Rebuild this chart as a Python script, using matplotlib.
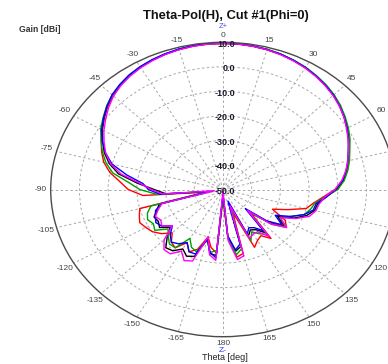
import numpy as np
import matplotlib
matplotlib.use("Agg")
import matplotlib.pyplot as plt

plt.rcParams['font.family'] = ['Liberation Sans', 'DejaVu Sans']

# Theta cut, Phi = 0, gain in dBi every 5 degrees from -180 to 180
theta_deg = np.arange(-180, 185, 5)

gain_black = [
    -48, -23, -23.5, -29, -21, -20, -22, -19.5, -19, -22.5,
    -26, -23, -24, -23.5, -25.5, -27, -45, -30, -26, -20,
    -13, -9, -6, -3.8, -1.5, 0.5, 2.5, 4.3, 5.6, 6.7,
    7.5, 8.2, 8.7, 9.1, 9.4, 9.6, 9.6, 9.6, 9.4, 9.1,
    8.7, 8.1, 7.4, 6.5, 5.5, 4.4, 3.1, 1.6, 0.0, -1.6,
    -3.4, -4.8, -6.3, -8.0, -10.5, -14, -16.5, -17, -19, -22.5,
    -28, -24, -29, -38, -27, -30, -31, -29, -44, -26,
    -24.5, -30, -48]

gain_red = [
    -46, -24, -26, -30, -24, -22, -25, -21, -22, -25,
    -22, -20, -19, -18, -19, -20, -44, -22, -17, -14,
    -10, -7, -5, -3.2, -1.2, 0.7, 2.6, 4.4, 5.7, 6.8,
    7.6, 8.2, 8.7, 9.1, 9.4, 9.5, 9.5, 9.5, 9.3, 9.0,
    8.6, 8.0, 7.3, 6.4, 5.4, 4.3, 3.0, 1.5, -0.2, -1.8,
    -3.3, -4.6, -6.0, -8.3, -11, -15, -18, -20, -26, -31,
    -25, -23, -30, -36, -24, -27, -26, -24, -40, -23,
    -22, -31, -46]

gain_green = [
    -47, -25, -24, -29, -23, -24, -27, -21, -21, -23,
    -25, -21, -22, -21, -22, -24, -45, -27, -21, -17,
    -11, -7.8, -5.3, -3.2, -0.8, 1.0, 2.9, 4.6, 5.8, 6.9,
    7.7, 8.3, 8.8, 9.2, 9.5, 9.6, 9.6, 9.6, 9.5, 9.2,
    8.8, 8.2, 7.6, 6.7, 5.8, 4.7, 3.4, 1.9, 0.4, -1.2,
    -3.0, -4.4, -5.9, -7.6, -10, -14.5, -17.5, -18.5, -20, -24,
    -27, -23, -28, -37, -26, -28, -30, -27, -42, -25,
    -23, -30, -47]

gain_blue = [
    -48, -22, -24, -29, -22, -22, -25, -23, -22, -24,
    -27, -24, -23, -24, -25, -28, -46, -28, -24, -22,
    -16, -10, -6.5, -3.6, -1.2, 0.8, 2.8, 4.6, 5.9, 7.0,
    7.8, 8.4, 8.9, 9.3, 9.6, 9.7, 9.7, 9.6, 9.4, 9.1,
    8.7, 8.1, 7.4, 6.5, 5.5, 4.4, 3.0, 1.5, -0.1, -1.8,
    -3.6, -5.0, -6.5, -8.2, -10.8, -14, -17, -17.5, -20, -24,
    -29, -25, -30, -39, -28, -31, -32, -30, -45, -27,
    -25, -31, -48]

gain_magenta = [
    -49, -21, -23, -30, -19, -18, -21, -18, -18, -21,
    -27, -24, -25, -24, -26, -28, -47, -29, -25, -21,
    -14, -9.5, -6.5, -4.3, -2.1, -0.1, 2.0, 3.9, 5.3, 6.4,
    7.3, 8.0, 8.6, 9.0, 9.3, 9.5, 9.5, 9.5, 9.3, 9.0,
    8.5, 7.9, 7.2, 6.3, 5.3, 4.2, 2.9, 1.4, -0.3, -1.9,
    -3.5, -5.0, -6.6, -8.5, -11, -14.5, -16, -16.5, -18, -22,
    -27, -23, -28, -38, -25, -29, -29, -28, -43, -22,
    -21, -29, -49]

series = [
    (gain_black, '#000000'),
    (gain_red, '#ff0000'),
    (gain_green, '#00a000'),
    (gain_blue, '#0000ff'),
    (gain_magenta, '#ff00ff'),
]

ring_values = [10, 0, -10, -20, -30, -40, -50]
# 75, 90 and 105 fall beyond the right edge of the canvas
angle_ticks = [a for a in range(-165, 195, 15) if a not in (75, 90, 105)]
r_min, r_max = -50, 10

W, H = 388, 364
fig = plt.figure(figsize=(W / 100, H / 100), dpi=100)

# polar axes stretched horizontally (elliptical frame)
cx, cy, rx, ry = 223.0, 189.5, 172.3, 147.2
ax = fig.add_axes([(cx - rx) / W, (H - cy - ry) / H, 2 * rx / W, 2 * ry / H],
                  projection='polar')
ax.set_aspect('auto')
ax.set_theta_zero_location('N')
ax.set_theta_direction(-1)
ax.set_ylim(r_min, r_max)

ax.set_rgrids([-40, -30, -20, -10, 0], labels=[])
ax.set_thetagrids(np.arange(0, 360, 15), labels=[])
ax.grid(True, color='#a8a8a8', linestyle=(0, (2.5, 2.5)), linewidth=0.7)
ax.spines['polar'].set_color('#4a4a4a')
ax.spines['polar'].set_linewidth(1.0)
ax.tick_params(length=0)

th = np.deg2rad(theta_deg)
for vals, col in series:
    ax.plot(th, vals, color=col, linewidth=1.0, clip_on=False)

# radial scale labels along the 0 degree spoke
for rv in ring_values:
    ax.annotate(f"{rv:.1f}", xy=(0, rv), xytext=(12, -2),
                textcoords='offset pixels', ha='right', va='center',
                fontsize=6.5, fontweight='bold', color='#1a1a2a',
                annotation_clip=False, zorder=5)

# angle labels outside the frame
for a in angle_ticks:
    t = np.deg2rad(a)
    d = 6.5 + 4.0 * abs(np.sin(t))
    ax.annotate(str(int(a)), xy=(t, r_max),
                xytext=(d * np.sin(t), d * np.cos(t)),
                textcoords='offset pixels', ha='center', va='center',
                fontsize=6, color='#444444', annotation_clip=False)


def px(x, y):
    return x / W, 1 - y / H


fig.text(*px(226, 16), "Theta-Pol(H), Cut #1(Phi=0)", ha='center', va='center',
         fontsize=9.3, fontweight='bold', color='#111111')
fig.text(*px(19, 29), "Gain [dBi]", ha='left', va='center',
         fontsize=6.2, fontweight='bold', color='#333333')
fig.text(*px(223, 27), "Z+", ha='center', va='center',
         fontsize=5.5, color='#4a4aff')
fig.text(*px(223, 350), "Z-", ha='center', va='center',
         fontsize=6, color='#3030ff')
fig.text(*px(225, 358), "Theta [deg]", ha='center', va='center',
         fontsize=6.5, color='#222222')

fig.savefig("out.png", dpi=100)
